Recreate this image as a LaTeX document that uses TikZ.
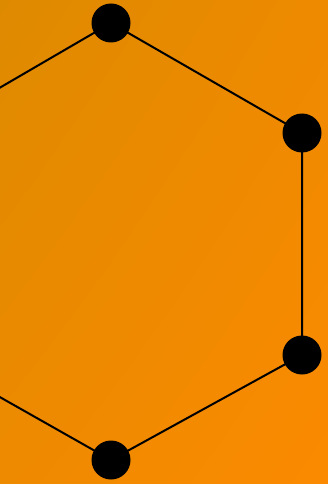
\documentclass[tikz,border=0pt]{standalone}
\usetikzlibrary{shadings}
\definecolor{cUL}{HTML}{DE8A00}
\definecolor{cLR}{HTML}{FB8A00}
\definecolor{cMid}{HTML}{EE8A00}
\tikzset{vert/.style={circle,fill=black,inner sep=0pt,minimum size=39pt},
edge/.style={draw=black,line width=2pt}}
\begin{document}
\begin{tikzpicture}[x=1pt,y=-1pt]
\shade[upper left=cUL,upper right=cMid,lower left=cMid,lower right=cLR] (0,0) rectangle (328,484);
\useasboundingbox (0,0) rectangle (328,484);
\coordinate (L1) at (-78,133);
\coordinate (L2) at (-78,353);
\coordinate (T) at (111,23);
\coordinate (R1) at (302,133);
\coordinate (R2) at (302,355);
\coordinate (B) at (111,460);
\draw[edge] (L1) -- (T) -- (R1) -- (R2) -- (B) -- (L2);
\node[vert] (nT) at (T) {};
\node[vert] (nR1) at (R1) {};
\node[vert] (nR2) at (R2) {};
\node[vert] (nB) at (B) {};
\end{tikzpicture}
\end{document}
